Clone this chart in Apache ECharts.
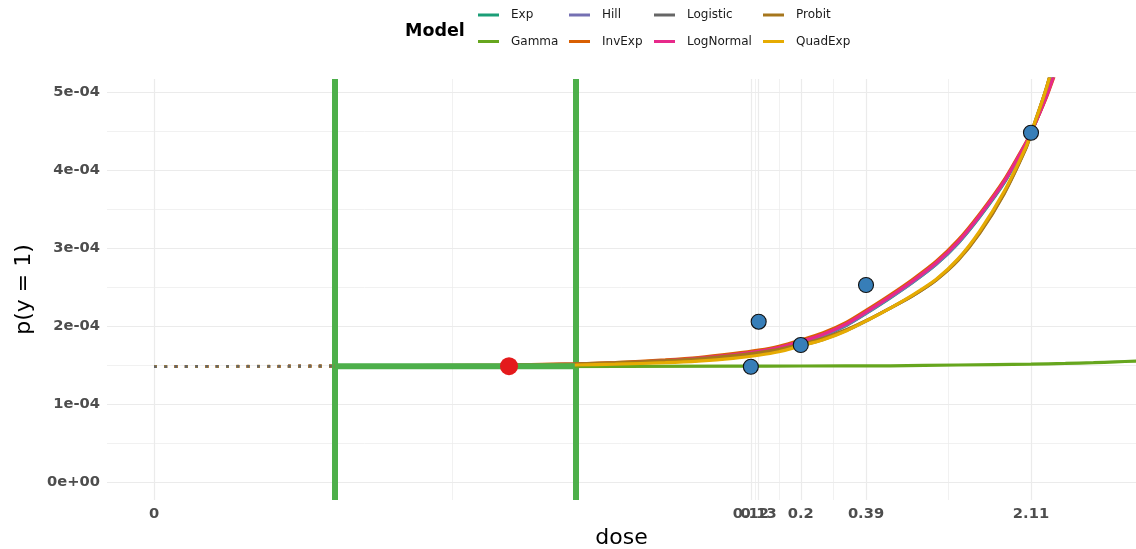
<!DOCTYPE html>
<html>
<head>
<meta charset="utf-8">
<title>Dose response model fits</title>
<script src="https://cdn.jsdelivr.net/npm/echarts@6/dist/echarts.min.js"></script>
<style>
  html, body { margin: 0; padding: 0; background: #ffffff; }
  #chart { width: 1136px; height: 549px; }
</style>
</head>
<body>
<div id="chart"></div>
<script>
// ---- data -------------------------------------------------------------
// all probabilities below are p(y = 1) in units of 1e-4
const modelNames  = ['Exp', 'Gamma', 'Hill', 'InvExp', 'Logistic', 'LogNormal', 'Probit', 'QuadExp'];
const modelColors = ['#1B9E77', '#66A61E', '#7570B3', '#D95F02', '#666666', '#E7298A', '#A6761D', '#E6AB02'];

// observed response rates
const obsDose = [0.12, 0.13, 0.2, 0.39, 2.11];
const obsP    = [1.478, 2.055, 1.756, 2.526, 4.478];

// fitted curves, evaluated at each dose of curveDose
const curveDose  = [0.0017, 0.003, 0.005, 0.01, 0.02, 0.03, 0.05, 0.07, 0.1, 0.13, 0.16, 0.2, 0.25, 0.32, 0.4, 0.5, 0.63, 0.8, 1.0, 1.25, 1.6, 2.0, 2.11, 2.5, 3.2];
const expP       = [1.485, 1.486, 1.489, 1.495, 1.506, 1.518, 1.548, 1.577, 1.62, 1.663, 1.71, 1.785, 1.87, 2.01, 2.18, 2.36, 2.56, 2.79, 3.06, 3.40, 3.83, 4.33, 4.47, 5.00, 5.97];
const hillP      = [1.485, 1.487, 1.49, 1.496, 1.508, 1.52, 1.55, 1.58, 1.625, 1.668, 1.715, 1.79, 1.875, 2.015, 2.185, 2.365, 2.565, 2.795, 3.065, 3.41, 3.84, 4.33, 4.47, 4.99, 5.95];
const invExpP    = [1.485, 1.488, 1.492, 1.50, 1.515, 1.53, 1.565, 1.595, 1.645, 1.69, 1.74, 1.82, 1.91, 2.05, 2.22, 2.40, 2.60, 2.83, 3.10, 3.44, 3.87, 4.35, 4.48, 4.97, 5.85];
const logNormalP = [1.485, 1.487, 1.49, 1.497, 1.51, 1.523, 1.555, 1.585, 1.63, 1.675, 1.725, 1.80, 1.89, 2.03, 2.20, 2.38, 2.58, 2.81, 3.08, 3.42, 3.85, 4.34, 4.47, 4.98, 5.90];
const logisticP  = [1.485, 1.487, 1.49, 1.495, 1.505, 1.515, 1.54, 1.56, 1.595, 1.635, 1.68, 1.75, 1.825, 1.945, 2.08, 2.23, 2.39, 2.59, 2.85, 3.20, 3.70, 4.28, 4.47, 5.10, 6.30];
const probitP    = [1.488, 1.49, 1.494, 1.50, 1.515, 1.53, 1.555, 1.58, 1.62, 1.66, 1.70, 1.765, 1.84, 1.955, 2.085, 2.23, 2.39, 2.59, 2.84, 3.19, 3.69, 4.27, 4.46, 5.10, 6.30];
const quadExpP   = [1.485, 1.486, 1.488, 1.492, 1.50, 1.51, 1.53, 1.55, 1.585, 1.625, 1.67, 1.745, 1.82, 1.94, 2.08, 2.23, 2.40, 2.60, 2.86, 3.22, 3.72, 4.29, 4.47, 5.10, 6.30];

const gammaDose = [0.0017, 0.01, 0.1, 0.2, 0.5, 1.0, 2.11, 3.0, 4.0, 5.0, 6.2];
const gammaP    = [1.48, 1.48, 1.485, 1.487, 1.49, 1.50, 1.51, 1.52, 1.53, 1.54, 1.55];

// background rate carried back to dose 0 (dotted part)
const p0 = 1.48;

// benchmark dose and its interval
const bmd  = 0.0101;
const bmdl = 0.0017;
const bmdu = 0.0198;
const bmdP = 1.485;

// axis breaks
const doseTicks      = [0, 0.12, 0.13, 0.2, 0.39, 2.11];
const doseTickLabels = ['0', '0.12', '0.13', '0.2', '0.39', '2.11'];
const pTicks         = [0, 1, 2, 3, 4, 5];
const pTickLabels    = ['0e+00', '1e-04', '2e-04', '3e-04', '4e-04', '5e-04'];

// ---- scale helpers ------------------------------------------------------
// dose is drawn on a log10 scale; dose 0 sits at a fixed point left of the data
const zeroDoseAt = 2.67e-4;
const xMin = -3.7824, xMax = 0.7910;
const yMin = -0.2308, yMax = 5.1667;
const toAxis = d => Math.log10(d > 0 ? d : zeroDoseAt);

const curveValues = {
  Exp: expP, Hill: hillP, InvExp: invExpP, Logistic: logisticP,
  LogNormal: logNormalP, Probit: probitP, QuadExp: quadExpP
};

function pairs(doses, vals) {
  return doses.map((d, i) => [toAxis(d), vals[i]]);
}

// gridlines: major at breaks, minor half-way between them (in drawn space)
const xMajor = doseTicks.map(toAxis);
const xMinor = [];
for (let i = 0; i + 1 < xMajor.length; i++) xMinor.push((xMajor[i] + xMajor[i + 1]) / 2);
const yMajor = pTicks.slice();
const yMinor = [];
for (let i = 0; i + 1 < yMajor.length; i++) yMinor.push((yMajor[i] + yMajor[i + 1]) / 2);

const gridLines = [];
xMajor.forEach(v => gridLines.push({ xAxis: v, lineStyle: { width: 1.2 } }));
xMinor.forEach(v => gridLines.push({ xAxis: v, lineStyle: { width: 0.7 } }));
yMajor.forEach(v => gridLines.push({ yAxis: v, lineStyle: { width: 1.2 } }));
yMinor.forEach(v => gridLines.push({ yAxis: v, lineStyle: { width: 0.7 } }));

// ---- series -------------------------------------------------------------
// panel gridlines live on the bottom layer, every mark on the layer above
const series = [];

series.push({
  name: 'grid', type: 'line', data: [], silent: true, zlevel: 0, z: 0,
  markLine: {
    silent: true, symbol: ['none', 'none'], label: { show: false },
    lineStyle: { color: '#EBEBEB', type: 'solid' },
    animation: false, precision: 6, data: gridLines
  }
});

// solid fitted curves
modelNames.forEach((name, i) => {
  const data = name === 'Gamma'
    ? pairs(gammaDose, gammaP)
    : pairs(curveDose, curveValues[name]);
  series.push({
    name: name, type: 'line', data: data,
    showSymbol: false, symbol: 'none', smooth: 0.25,
    lineStyle: { color: modelColors[i], width: 3.2 },
    itemStyle: { color: modelColors[i] },
    zlevel: 1, z: 3 + i * 0.01, clip: true, silent: true
  });
});

// dotted extension back to dose 0
const dottedOrder = ['Exp', 'Gamma', 'Hill', 'InvExp', 'LogNormal', 'Probit', 'QuadExp', 'Logistic'];
dottedOrder.forEach((name, k) => {
  const i = modelNames.indexOf(name);
  const first = name === 'Gamma' ? gammaP[0] : curveValues[name][0];
  series.push({
    name: name + ' to 0', type: 'line',
    data: [[toAxis(0), p0], [toAxis(bmdl), first]],
    showSymbol: false, symbol: 'none',
    lineStyle: { color: modelColors[i], width: 2.8, type: [2.8, 7.5], cap: 'butt' },
    zlevel: 1, z: 2 + k * 0.01, silent: true
  });
});

// benchmark dose interval
series.push({
  name: 'BMD interval', type: 'line',
  data: [[toAxis(bmdl), bmdP], [toAxis(bmdu), bmdP]],
  showSymbol: false, symbol: 'none',
  lineStyle: { color: '#4DAF4A', width: 6 },
  zlevel: 1, z: 5, silent: true,
  markLine: {
    silent: true, symbol: ['none', 'none'], label: { show: false },
    lineStyle: { color: '#4DAF4A', width: 6, type: 'solid' },
    animation: false,
    data: [{ xAxis: toAxis(bmdl) }, { xAxis: toAxis(bmdu) }]
  }
});

series.push({
  name: 'BMD', type: 'scatter', data: [[toAxis(bmd), bmdP]],
  symbolSize: 18, itemStyle: { color: '#E41A1C', opacity: 1 },
  zlevel: 1, z: 6, silent: true
});

series.push({
  name: 'Observed', type: 'scatter', data: pairs(obsDose, obsP),
  symbolSize: 15,
  itemStyle: { color: '#377EB8', borderColor: '#111111', borderWidth: 1.1, opacity: 1 },
  zlevel: 1, z: 7, silent: true
});

// ---- legend: two rows, filled column by column --------------------------
const legendCols = [478, 569, 654, 763];
const legendRows = [7, 33.5];
const legends = modelNames.map((name, i) => ({
  data: [name],
  left: legendCols[Math.floor(i / 2)],
  top: legendRows[i % 2],
  padding: 0,
  icon: 'rect', itemWidth: 21, itemHeight: 3,
  textStyle: {
    fontFamily: 'DejaVu Sans', fontSize: 12, color: '#1A1A1A',
    lineHeight: 16, padding: [0, 0, 0, 7]
  },
  selectedMode: false
}));

// ---- chart ----------------------------------------------------------------
const chart = echarts.init(document.getElementById('chart'), null, { renderer: 'canvas' });
chart.setOption({
  animation: false,
  backgroundColor: '#ffffff',
  textStyle: { fontFamily: 'DejaVu Sans' },
  title: {
    text: 'Model', left: 405, top: 22, padding: 0,
    textStyle: { fontFamily: 'DejaVu Sans', fontSize: 17.5, fontWeight: 'bold', color: '#000000' }
  },
  legend: legends,
  grid: { left: 107, right: 0, top: 79, bottom: 49, containLabel: false, outerBoundsMode: 'none' },
  xAxis: {
    type: 'value', min: xMin, max: xMax,
    name: 'dose', nameLocation: 'middle', nameGap: 25,
    nameTextStyle: { fontFamily: 'DejaVu Sans', fontSize: 22, color: '#000000' },
    axisLine: { show: false }, axisTick: { show: false, customValues: xMajor },
    splitLine: { show: false },
    axisLabel: {
      customValues: xMajor, margin: 7,
      fontFamily: 'DejaVu Sans', fontSize: 14.7, fontWeight: 'bold', color: '#4D4D4D',
      formatter: function (v) {
        let best = 0;
        xMajor.forEach((m, i) => { if (Math.abs(m - v) < Math.abs(xMajor[best] - v)) best = i; });
        return doseTickLabels[best];
      }
    }
  },
  yAxis: {
    type: 'value', min: yMin, max: yMax,
    name: 'p(y = 1)', nameLocation: 'middle', nameGap: 72,
    nameTextStyle: { fontFamily: 'DejaVu Sans', fontSize: 22, color: '#000000' },
    axisLine: { show: false }, axisTick: { show: false, customValues: yMajor },
    splitLine: { show: false },
    axisLabel: {
      customValues: yMajor, margin: 7,
      fontFamily: 'DejaVu Sans', fontSize: 14.7, fontWeight: 'bold', color: '#4D4D4D',
      formatter: function (v) {
        let best = 0;
        yMajor.forEach((m, i) => { if (Math.abs(m - v) < Math.abs(yMajor[best] - v)) best = i; });
        return pTickLabels[best];
      }
    }
  },
  series: series
});
</script>
</body>
</html>
